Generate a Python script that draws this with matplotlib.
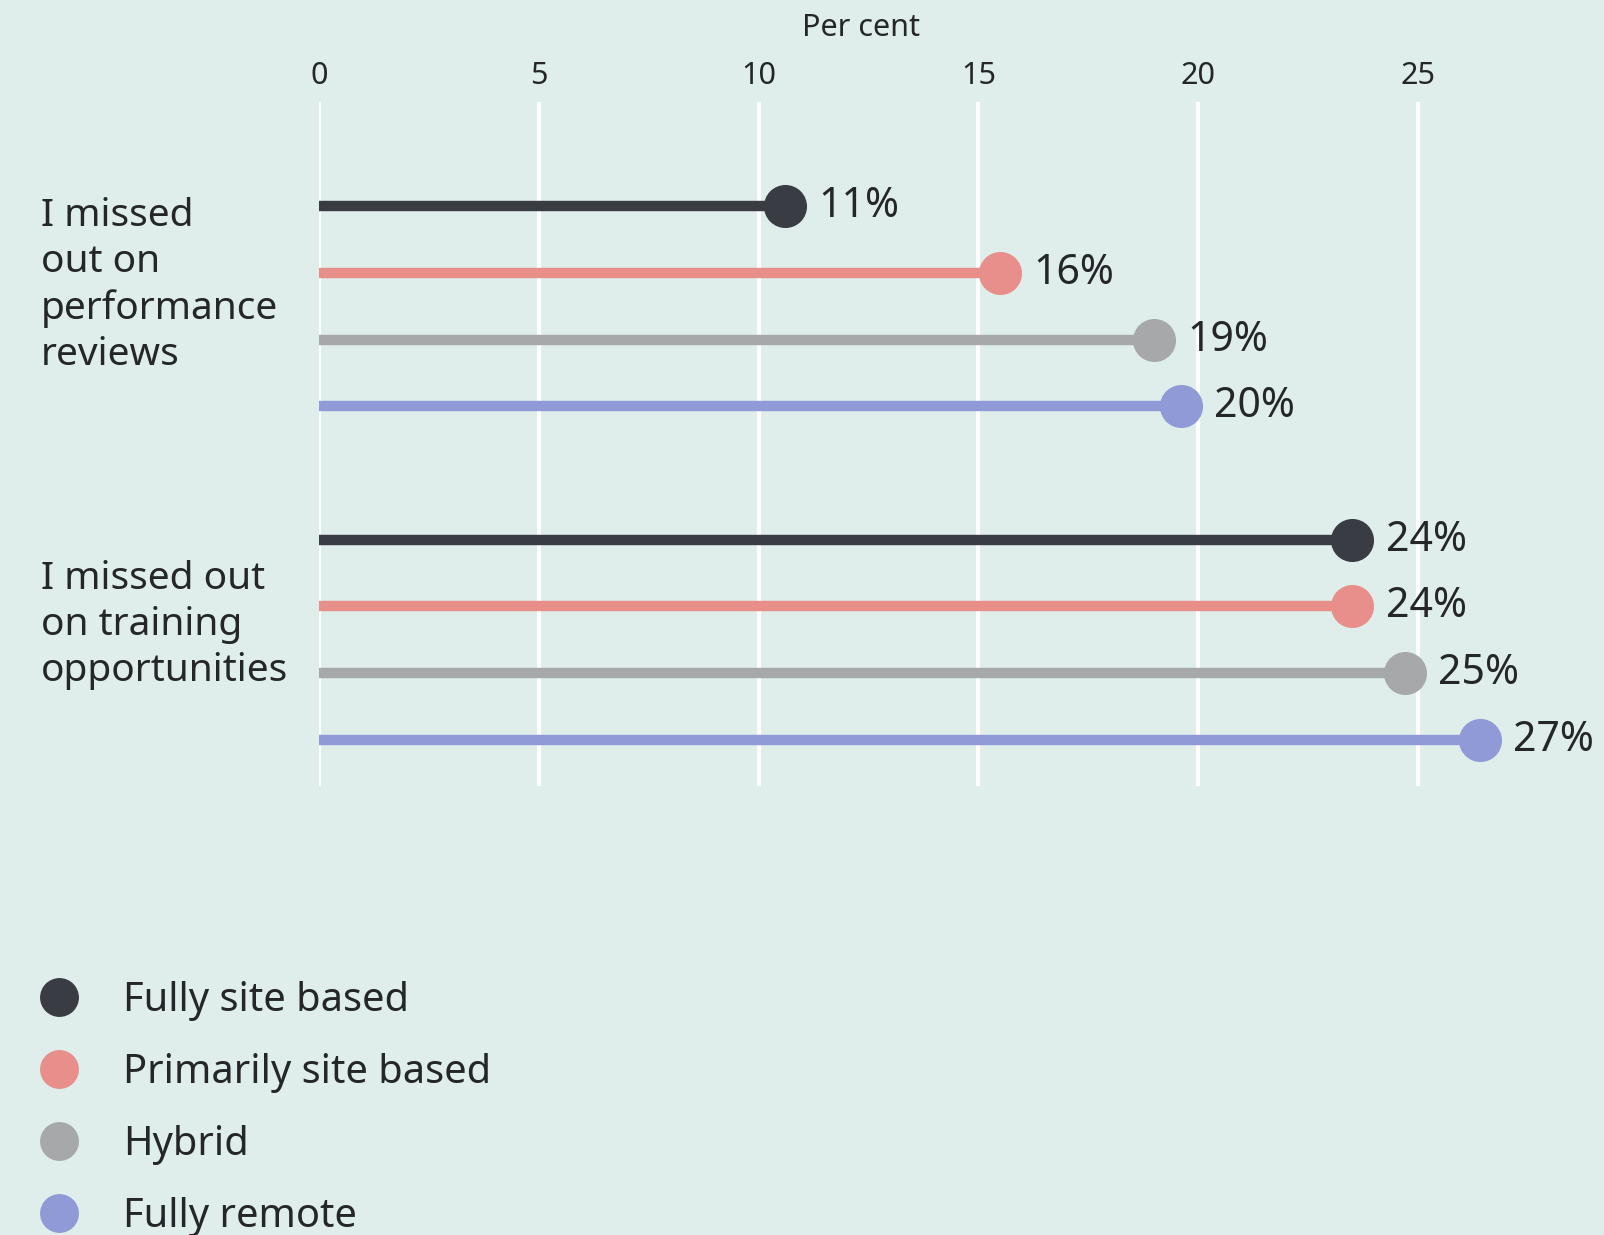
import matplotlib
matplotlib.use("Agg")
import matplotlib.pyplot as plt
import matplotlib.transforms as mtransforms
from matplotlib.lines import Line2D

plt.rcParams['font.family'] = ['Noto Sans', 'DejaVu Sans']

# ---- data ----
categories = ["I missed\nout on\nperformance\nreviews",
              "I missed out\non training\nopportunities"]
series = ["Fully site based", "Primarily site based", "Hybrid", "Fully remote"]
values_reviews = [10.6, 15.5, 19.0, 19.6]
values_training = [23.5, 23.5, 24.7, 26.4]
labels_reviews = ["11%", "16%", "19%", "20%"]
labels_training = ["24%", "24%", "25%", "27%"]
xticks = [0, 5, 10, 15, 20, 25]
colors = ["#393c43", "#e88f8b", "#a7a8aa", "#8f9ad6"]

BG = "#dfeeeb"
TXT = "#24262a"

W, H = 1604, 1235
fig = plt.figure(figsize=(W / 100, H / 100), dpi=100, facecolor=BG)
ax_left, ax_right = 319 / W, 1572 / W
ax_top, ax_bot = 1 - 102 / H, 1 - 786 / H
ax = fig.add_axes([ax_left, ax_bot, ax_right - ax_left, ax_top - ax_bot])
ax.set_facecolor(BG)

ax.set_xlim(0, 28.5)
ax.set_ylim(8.69, -1.56)

groups = [(0, values_reviews, labels_reviews), (5, values_training, labels_training)]
for base, vals, labs in groups:
    for i, (v, lab) in enumerate(zip(vals, labs)):
        y = base + i
        ax.plot([0, v], [y, y], color=colors[i], lw=7.5, solid_capstyle='butt', zorder=3)
        ax.plot([v], [y], 'o', color=colors[i], ms=31, mew=0, zorder=4)
        ax.annotate(lab, (v, y), xytext=(24, 0), textcoords='offset points',
                    va='center', ha='left', fontsize=29.5, color=TXT, annotation_clip=False)

ax.set_xticks(xticks)
ax.set_xticklabels([str(t) for t in xticks])
ax.xaxis.tick_top()
ax.tick_params(axis='x', length=0, pad=8, labelsize=22, labelcolor=TXT)
ax.set_yticks([])
ax.grid(axis='x', color='white', lw=3, zorder=1)
ax.set_axisbelow(True)
for s in ax.spines.values():
    s.set_visible(False)

fig.text(861 / W, 1 - 28 / H, "Per cent", ha='center', va='center', fontsize=22, color=TXT)

trans = mtransforms.blended_transform_factory(fig.transFigure, ax.transData)
cat_y = [1.19, 6.28]
for cy, cat in zip(cat_y, categories):
    fig.text(41 / W, cy, cat, transform=trans, ha='left', va='center',
             fontsize=28, color=TXT, linespacing=1.27)

handles = [Line2D([], [], marker='o', ls='none', color=c, ms=28, mew=0) for c in colors]
fig.legend(handles, series, loc='upper left', bbox_to_anchor=(39 / W, 1 - 981 / H),
           bbox_transform=fig.transFigure, frameon=False, fontsize=28.7,
           handlelength=1.0, handletextpad=1.1, labelspacing=0.8,
           borderpad=0, borderaxespad=0, labelcolor=TXT)

fig.savefig("out.png", dpi=100, facecolor=BG)
